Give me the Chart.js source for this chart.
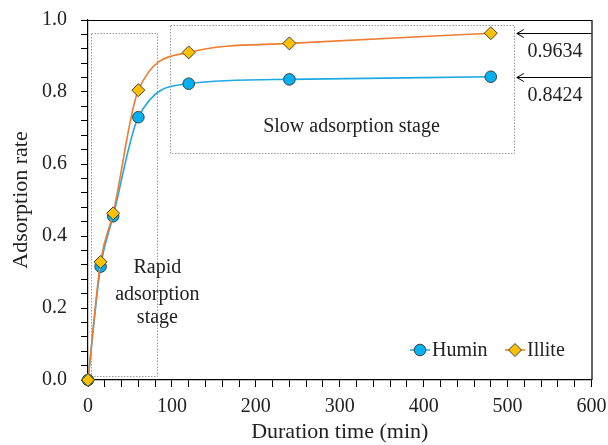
<!DOCTYPE html>
<html>
<head>
<meta charset="utf-8">
<script src="https://cdn.jsdelivr.net/npm/chart.js@4"></script>
<style>
  html, body { margin: 0; padding: 0; background: #fff; }
  #wrap { width: 608px; height: 445px; }
</style>
</head>
<body>
<div id="wrap"><canvas id="c" width="608" height="445"></canvas></div>
<script>
// adsorption kinetics: humin vs illite
const times = [0, 15, 30, 60, 120, 240, 480];
const humin = [0, 0.315, 0.455, 0.73, 0.823, 0.835, 0.8424];
const illite = [0, 0.328, 0.463, 0.805, 0.91, 0.935, 0.9634];
const equilibrium = [0.9634, 0.8424];

const FONT = "'Liberation Serif', 'Times New Roman', serif";

const isMajor = (v, step) => Math.abs(v / step - Math.round(v / step)) < 1e-6;

// fixed axis sizes, no label overflow padding -> plot box matches the original
const fixAxis = (w, h) => s => {
    if (w) s.width = w;
    if (h) s.height = h;
    s.paddingTop = s.paddingBottom = s.paddingLeft = s.paddingRight = 0;
};

const extras = {
    id: "extras",
    beforeDatasetsDraw(chart) {
        const { ctx, scales: { x, y } } = chart;
        ctx.save();
        // dotted stage boxes
        ctx.strokeStyle = "#9a9a9a";
        ctx.lineWidth = 1;
        ctx.setLineDash([1.5, 1.5]);
        [[4, 83, 0.012, 0.964], [98, 508, 0.63, 0.986]].forEach(([x0, x1, y0, y1]) => {
            const l = x.getPixelForValue(x0), r = x.getPixelForValue(x1);
            const t = y.getPixelForValue(y1), b = y.getPixelForValue(y0);
            ctx.strokeRect(Math.round(l) + 0.5, Math.round(t) + 0.5, Math.round(r - l), Math.round(b - t));
        });
        ctx.setLineDash([]);
        ctx.fillStyle = "#222";
        ctx.font = "20px " + FONT;
        ctx.textAlign = "center";
        ctx.textBaseline = "middle";
        ctx.fillText("Slow adsorption stage", x.getPixelForValue(314), y.getPixelForValue(0.703));
        [["Rapid", 0.311], ["adsorption", 0.236], ["stage", 0.172]].forEach(([s, v]) => {
            ctx.fillText(s, x.getPixelForValue(82.7), y.getPixelForValue(v));
        });
        ctx.restore();
    },
    afterDraw(chart) {
        const { ctx, chartArea: a, scales: { x, y } } = chart;
        ctx.save();
        // frame
        ctx.strokeStyle = "#000";
        ctx.lineWidth = 1.2;
        ctx.beginPath();
        ctx.moveTo(a.left, a.top + 0.5);
        ctx.lineTo(a.right + 0.5, a.top + 0.5);
        ctx.lineTo(a.right + 0.5, a.bottom);
        ctx.stroke();

        // arrows to equilibrium values
        ctx.lineWidth = 1;
        ctx.font = "20px " + FONT;
        ctx.textAlign = "center";
        ctx.textBaseline = "middle";
        ctx.fillStyle = "#222";
        equilibrium.forEach(v => {
            const py = Math.round(y.getPixelForValue(v)) + 0.5;
            const tip = x.getPixelForValue(511);
            ctx.beginPath();
            ctx.moveTo(a.right, py);
            ctx.lineTo(tip, py);
            ctx.moveTo(tip + 7, py - 4);
            ctx.lineTo(tip, py);
            ctx.lineTo(tip + 7, py + 4);
            ctx.stroke();
            ctx.fillText(v.toFixed(4), x.getPixelForValue(556.5), py + 18.5);
        });

        // legend, bottom right inside the plot
        const ly = 350;
        chart.data.datasets.slice().sort((p, q) => p.legendIndex - q.legendIndex).forEach((ds, i) => {
            const lx = [410, 505][i];
            ctx.strokeStyle = ds.borderColor;
            ctx.lineWidth = 1.5;
            ctx.beginPath();
            ctx.moveTo(lx, ly);
            ctx.lineTo(lx + 20, ly);
            ctx.stroke();
            ctx.fillStyle = ds.pointBackgroundColor;
            ctx.strokeStyle = ds.pointBorderColor;
            ctx.lineWidth = 1;
            ctx.beginPath();
            if (ds.pointStyle === "circle") {
                ctx.arc(lx + 10, ly, ds.pointRadius, 0, Math.PI * 2);
            } else {
                const r = ds.pointRadius;
                ctx.moveTo(lx + 10 - r, ly);
                ctx.lineTo(lx + 10, ly - r);
                ctx.lineTo(lx + 10 + r, ly);
                ctx.lineTo(lx + 10, ly + r);
                ctx.closePath();
            }
            ctx.fill();
            ctx.stroke();
            ctx.fillStyle = "#222";
            ctx.textAlign = "left";
            ctx.fillText(ds.label, lx + 22, ly + 1);
        });
        ctx.restore();
    }
};

new Chart(document.getElementById("c"), {
    type: "line",
    data: {
        datasets: [
            {
                label: "Humin", legendIndex: 0, order: 1,
                data: times.map((t, i) => ({ x: t, y: humin[i] })),
                borderColor: "#1DAAE2", borderWidth: 1.6,
                pointStyle: "circle", pointRadius: 5.8,
                pointBackgroundColor: "#00B0F0", pointBorderColor: "#404040", pointBorderWidth: 1,
                cubicInterpolationMode: "monotone", clip: false
            },
            {
                label: "Illite", legendIndex: 1, order: 0,
                data: times.map((t, i) => ({ x: t, y: illite[i] })),
                borderColor: "#ED7D31", borderWidth: 1.6,
                pointStyle: "rectRot", pointRadius: 6.5,
                pointBackgroundColor: "#FFC000", pointBorderColor: "#404040", pointBorderWidth: 1,
                cubicInterpolationMode: "monotone", clip: false
            }
        ]
    },
    options: {
        responsive: false,
        animation: false,
        layout: { padding: { left: 0, right: 16.5, top: 20, bottom: 0 } },
        plugins: { legend: { display: false }, tooltip: { enabled: false } },
        scales: {
            x: {
                type: "linear", min: 0, max: 600,
                afterFit: fixAxis(0, 65),
                border: { color: "#000", width: 1.2 },
                grid: { drawOnChartArea: false, tickLength: 7, tickColor: "#000" },
                ticks: {
                    stepSize: 20, autoSkip: false, maxRotation: 0, padding: 8,
                    color: "#222", font: { family: FONT, size: 20 },
                    callback: v => isMajor(v, 100) ? String(v) : ""
                },
                title: { display: true, text: "Duration time (min)", color: "#222", font: { family: FONT, size: 22 }, padding: { top: 0, bottom: 0 } }
            },
            y: {
                min: 0, max: 1,
                afterFit: fixAxis(88, 0),
                border: { color: "#000", width: 1.2 },
                grid: { drawOnChartArea: false, tickLength: 7, tickColor: "#000" },
                ticks: {
                    stepSize: 0.04, autoSkip: false, padding: 14,
                    color: "#222", font: { family: FONT, size: 20 },
                    callback: v => isMajor(v, 0.2) ? v.toFixed(1) : ""
                },
                title: { display: true, text: "Adsorption rate", color: "#222", font: { family: FONT, size: 22 }, padding: { top: 8, bottom: 0 } }
            }
        }
    },
    plugins: [extras]
});
</script>
</body>
</html>
